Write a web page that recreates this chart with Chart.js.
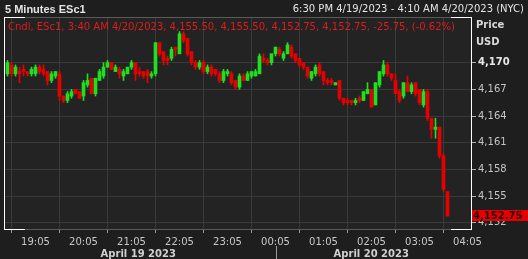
<!DOCTYPE html>
<html lang="en">
<head>
<meta charset="UTF-8">
<title>5 Minutes ESc1</title>
<script src="https://cdn.jsdelivr.net/npm/chart.js"></script>
<style>
  html, body { margin: 0; padding: 0; background: #1e1e1e; overflow: hidden; }
  canvas { display: block; }
</style>
</head>
<body>
<canvas id="esChart" width="528" height="259"></canvas>
<script>
// 5 minute candles starting 18:30 (4/19), last one 03:40 (4/20)
const startTime = '18:30';
const barMinutes = 5;

const opens = [
  4168.75, 4169.75, 4168.75, 4169.0, 4169.25, 4169.0, 4168.75, 4168.75, 4169.5, 4169.25,
  4169.0, 4168.0, 4168.5, 4168.75, 4166.25, 4165.75, 4166.25, 4167.0, 4166.75, 4166.25,
  4167.5, 4168.25, 4166.5, 4168.0, 4168.5, 4169.5, 4170.0, 4169.0, 4169.25, 4168.5,
  4168.75, 4169.5, 4170.0, 4169.0, 4169.0, 4169.0, 4168.5, 4168.75, 4172.25, 4171.25,
  4170.5, 4170.5, 4171.75, 4171.0, 4173.25, 4172.75, 4171.25, 4170.0, 4169.5, 4170.0,
  4169.0, 4169.5, 4169.25, 4168.75, 4168.0, 4168.75, 4168.75, 4168.0, 4167.25, 4168.5,
  4168.0, 4168.5, 4168.5, 4168.75, 4170.5, 4170.25, 4170.0, 4171.0, 4171.5, 4170.5,
  4171.0, 4171.75, 4171.0, 4170.5, 4170.0, 4169.5, 4168.25, 4168.75, 4169.75, 4169.0,
  4168.0, 4168.0, 4167.5, 4168.0, 4166.0, 4165.75, 4165.75, 4165.5, 4166.0, 4165.75,
  4166.5, 4167.0, 4165.25, 4167.5, 4168.75, 4169.75, 4168.75, 4168.0, 4166.75, 4166.25,
  4167.75, 4166.75, 4167.75, 4167.0, 4165.25, 4166.75, 4163.75, 4162.5, 4162.75, 4159.5,
  4155.5
];
const highs = [
  4170.25, 4170.0, 4169.75, 4169.5, 4169.75, 4169.0, 4169.5, 4169.75, 4169.75, 4169.75,
  4169.0, 4169.0, 4169.0, 4169.0, 4166.25, 4166.75, 4167.0, 4167.0, 4166.75, 4168.0,
  4168.75, 4168.25, 4168.25, 4169.25, 4170.0, 4170.25, 4170.0, 4169.75, 4169.5, 4169.25,
  4169.5, 4170.25, 4170.0, 4169.5, 4169.0, 4169.25, 4169.0, 4172.25, 4172.25, 4171.25,
  4170.75, 4171.75, 4171.75, 4173.5, 4173.5, 4172.75, 4171.25, 4170.25, 4170.25, 4170.25,
  4169.75, 4169.75, 4169.25, 4169.0, 4169.25, 4169.25, 4169.0, 4168.0, 4168.75, 4168.75,
  4169.0, 4169.0, 4169.25, 4171.0, 4171.0, 4170.5, 4171.0, 4171.75, 4171.75, 4171.25,
  4172.25, 4172.0, 4171.0, 4170.5, 4170.0, 4169.5, 4169.0, 4169.75, 4170.0, 4169.0,
  4168.25, 4168.25, 4167.75, 4168.0, 4166.0, 4166.0, 4165.75, 4166.0, 4166.25, 4166.75,
  4167.75, 4167.0, 4167.75, 4169.0, 4170.25, 4170.0, 4168.75, 4168.75, 4167.0, 4167.75,
  4168.5, 4167.75, 4167.75, 4167.0, 4167.0, 4167.0, 4163.75, 4163.75, 4162.75, 4159.75,
  4155.5
];
const lows = [
  4168.5, 4168.5, 4168.5, 4167.75, 4168.5, 4168.5, 4168.5, 4168.5, 4168.75, 4168.5,
  4167.5, 4167.75, 4168.25, 4165.75, 4165.5, 4165.5, 4166.0, 4166.5, 4166.0, 4165.75,
  4167.25, 4166.5, 4166.25, 4168.0, 4168.25, 4169.5, 4169.25, 4169.0, 4168.25, 4168.0,
  4168.75, 4169.25, 4168.0, 4168.5, 4168.25, 4167.75, 4168.25, 4168.5, 4170.75, 4169.75,
  4169.75, 4170.25, 4170.75, 4171.0, 4172.25, 4170.75, 4169.75, 4169.25, 4169.25, 4168.75,
  4168.75, 4168.5, 4168.5, 4167.75, 4167.75, 4168.5, 4167.5, 4167.0, 4167.0, 4168.0,
  4168.0, 4168.25, 4168.5, 4168.75, 4170.0, 4169.75, 4169.75, 4170.75, 4170.75, 4170.25,
  4171.0, 4170.5, 4170.0, 4169.5, 4169.25, 4168.25, 4168.0, 4168.5, 4168.5, 4167.5,
  4167.5, 4167.5, 4167.5, 4165.75, 4165.25, 4165.25, 4165.25, 4165.25, 4165.5, 4165.75,
  4166.5, 4165.0, 4165.25, 4167.25, 4168.5, 4168.5, 4168.0, 4166.5, 4165.5, 4166.0,
  4166.75, 4166.5, 4166.25, 4165.25, 4165.0, 4163.5, 4161.5, 4161.5, 4159.25, 4155.5,
  4152.75
];
const closes = [
  4170.0, 4168.75, 4169.5, 4168.75, 4169.0, 4168.75, 4169.25, 4169.5, 4169.0, 4168.75,
  4168.0, 4168.75, 4169.0, 4166.25, 4165.75, 4166.5, 4166.75, 4166.5, 4166.0, 4167.75,
  4168.0, 4166.5, 4168.25, 4169.0, 4169.5, 4170.0, 4169.25, 4169.5, 4168.75, 4169.0,
  4169.5, 4170.0, 4168.75, 4168.75, 4168.5, 4168.5, 4168.75, 4172.25, 4171.0, 4170.25,
  4170.25, 4171.5, 4171.5, 4173.25, 4172.5, 4171.0, 4170.0, 4169.5, 4170.0, 4169.0,
  4169.5, 4168.75, 4168.75, 4168.0, 4169.0, 4169.0, 4167.75, 4167.25, 4168.5, 4168.0,
  4168.75, 4169.0, 4169.0, 4170.75, 4170.25, 4170.0, 4171.0, 4171.75, 4171.0, 4171.0,
  4172.0, 4170.75, 4170.25, 4169.75, 4169.5, 4168.5, 4169.0, 4169.5, 4168.75, 4168.0,
  4167.75, 4167.75, 4167.75, 4166.0, 4165.5, 4165.5, 4165.5, 4165.75, 4165.75, 4166.75,
  4167.0, 4165.0, 4167.75, 4169.0, 4169.75, 4168.75, 4168.25, 4166.5, 4165.75, 4167.75,
  4166.75, 4167.5, 4166.5, 4165.5, 4166.75, 4163.75, 4162.5, 4162.75, 4159.5, 4155.75,
  4152.75
];

const xTickLabels = ['19:05', '20:05', '21:05', '22:05', '23:05', '00:05', '01:05', '02:05', '03:05', '04:05'];
const yTickValues = [4152, 4155, 4158, 4161, 4164, 4167, 4170];
const dateLabels = ['April 19 2023', 'April 20 2023'];
const netChange = '-25.75';
const pctChange = '(-0.62%)';

const UP = '#1fe01f';
const DOWN = '#e60000';
const FONT = '"DejaVu Sans", sans-serif';

// minutes after the session start, wrapping past midnight
function toMinutes(hhmm) {
  const [h, m] = hhmm.split(':').map(Number);
  const [h0, m0] = startTime.split(':').map(Number);
  return (h * 60 + m - (h0 * 60 + m0) + 1440) % 1440;
}

const barX = opens.map((_, i) => i * barMinutes);
const barColors = opens.map((o, i) => closes[i] >= o ? UP : DOWN);
const fmt = v => v.toLocaleString('en-US', { minimumFractionDigits: 2, maximumFractionDigits: 2 });
const last = opens.length - 1;

const chrome = {
  id: 'chrome',
  beforeDraw(chart) {
    const { ctx, chartArea: a } = chart;
    ctx.save();
    ctx.fillStyle = '#1e1e1e';
    ctx.fillRect(0, 0, chart.width, chart.height);
    ctx.fillStyle = '#232323';
    ctx.fillRect(a.left, a.top, a.right - a.left, a.bottom - a.top);
    ctx.restore();
  },
  afterDraw(chart) {
    const { ctx, chartArea: a, scales } = chart;
    ctx.save();

    // frame: gray top/bottom, white sides and corners
    ctx.lineWidth = 1;
    ctx.strokeStyle = '#5a5a5a';
    ctx.beginPath();
    ctx.moveTo(a.left, a.top + 0.5); ctx.lineTo(a.right, a.top + 0.5);
    ctx.moveTo(a.left, a.bottom + 0.5); ctx.lineTo(a.right, a.bottom + 0.5);
    ctx.stroke();
    ctx.strokeStyle = '#ffffff';
    ctx.beginPath();
    ctx.moveTo(a.left - 0.5, a.top); ctx.lineTo(a.left - 0.5, a.bottom + 1);
    ctx.moveTo(a.right + 0.5, a.top); ctx.lineTo(a.right + 0.5, a.bottom + 1);
    ctx.moveTo(a.left - 1, a.top + 0.5); ctx.lineTo(a.left + 20, a.top + 0.5);
    ctx.moveTo(a.right - 20, a.top + 0.5); ctx.lineTo(a.right + 1, a.top + 0.5);
    ctx.moveTo(a.left - 1, a.bottom + 0.5); ctx.lineTo(a.left + 20, a.bottom + 0.5);
    ctx.moveTo(a.right - 20, a.bottom + 0.5); ctx.lineTo(a.right + 1, a.bottom + 0.5);
    ctx.stroke();

    // header
    ctx.textBaseline = 'alphabetic';
    ctx.textAlign = 'left';
    ctx.fillStyle = '#e4e4e4';
    ctx.font = 'bold 11px "Liberation Sans", sans-serif';
    ctx.fillText('5 Minutes ESc1', 5, 13);
    ctx.font = '10px ' + FONT;
    ctx.textAlign = 'right';
    ctx.fillText('6:30 PM 4/19/2023 - 4:10 AM 4/20/2023 (NYC)', 524, 12);

    ctx.textAlign = 'left';
    ctx.fillStyle = '#e01c1c';
    const legend = ['Cndl', 'ESc1', '3:40 AM 4/20/2023', fmt(opens[last]), fmt(highs[last]),
      fmt(lows[last]), fmt(closes[last]), netChange, pctChange].join(', ');
    ctx.fillText(legend, 8, 29.5);

    ctx.fillStyle = '#d8d8d8';
    ctx.font = 'bold 10px ' + FONT;
    ctx.fillText('Price', 476, 28);
    ctx.fillText('USD', 476, 45);

    // last price tag
    const py = Math.round(scales.y.getPixelForValue(closes[last]));
    ctx.fillStyle = '#e60000';
    ctx.fillRect(a.right + 1, py - 6, chart.width - a.right - 1, 11);
    ctx.fillStyle = '#2a0000';
    ctx.textBaseline = 'middle';
    ctx.fillText(fmt(closes[last]), a.right + 2, py);

    // day labels and midnight separator
    const midX = scales.x.getPixelForValue(toMinutes('00:00'));
    const sepX = Math.round(scales.x.getPixelForValue(toMinutes('00:05'))) + 0.5;
    ctx.strokeStyle = '#9a9a9a';
    ctx.beginPath();
    ctx.moveTo(sepX, 246); ctx.lineTo(sepX, chart.height);
    ctx.stroke();
    ctx.textBaseline = 'alphabetic';
    ctx.textAlign = 'center';
    ctx.fillStyle = '#d0d0d0';
    ctx.fillText(dateLabels[0], (a.left + midX) / 2, 256.5);
    ctx.fillText(dateLabels[1], (midX + a.right) / 2, 256.5);
    ctx.restore();
  }
};

new Chart(document.getElementById('esChart'), {
  type: 'bar',
  data: {
    datasets: [
      {
        label: 'wick',
        data: barX.map((x, i) => ({ x: x, y: [lows[i], highs[i]] })),
        backgroundColor: barColors,
        barThickness: 1,
        grouped: false
      },
      {
        label: 'body',
        data: barX.map((x, i) => ({ x: x, y: [Math.min(opens[i], closes[i]), Math.max(opens[i], closes[i])] })),
        backgroundColor: barColors,
        barThickness: 3,
        minBarLength: 1,
        grouped: false
      }
    ]
  },
  options: {
    responsive: false,
    animation: false,
    events: [],
    layout: { padding: { left: 5, top: 17, right: 0, bottom: 0 } },
    plugins: { legend: { display: false }, tooltip: { enabled: false } },
    scales: {
      x: {
        type: 'linear',
        offset: false,
        min: -3.125,
        max: 579.375,
        afterBuildTicks: s => { s.ticks = xTickLabels.map(l => ({ value: toMinutes(l) })); },
        afterFit: s => { s.height = 30; },
        ticks: {
          callback: (v, i) => xTickLabels[i],
          color: '#c8c8c8',
          font: { family: FONT, size: 10 },
          padding: 3,
          maxRotation: 0,
          autoSkip: false
        },
        grid: { color: '#3a3a3a', tickColor: '#9a9a9a', tickLength: 4 },
        border: { display: false }
      },
      y: {
        position: 'right',
        min: 4151.29,
        max: 4175.14,
        afterBuildTicks: s => { s.ticks = yTickValues.map(v => ({ value: v })); },
        afterFit: s => { s.width = 57; },
        ticks: {
          callback: v => v.toLocaleString('en-US'),
          color: c => c.tick && c.tick.value === 4170 ? '#e8e8e8' : '#c4c4c4',
          font: c => ({ family: FONT, size: 10, weight: c.tick && c.tick.value === 4170 ? 'bold' : 'normal' }),
          padding: 2
        },
        grid: { color: '#3a3a3a', tickColor: '#b0b0b0', tickLength: 5 },
        border: { display: false }
      }
    }
  },
  plugins: [chrome]
});
</script>
</body>
</html>
